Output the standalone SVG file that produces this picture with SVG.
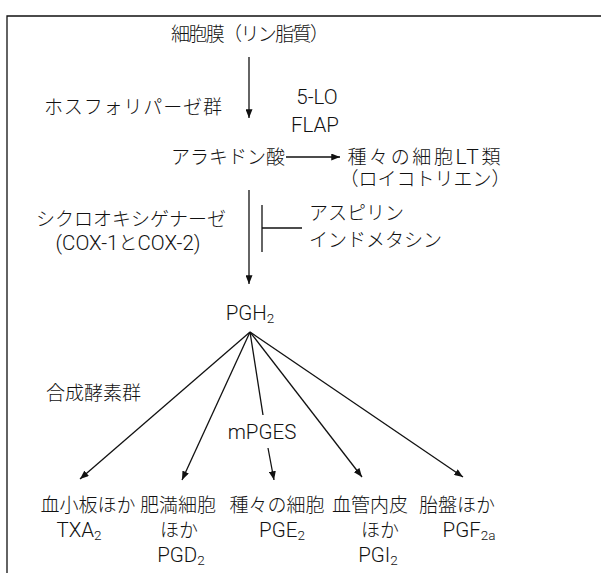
<svg xmlns="http://www.w3.org/2000/svg" width="601" height="573" viewBox="0 0 601 573">
<defs>
<style>
text{font-family:Roboto,"Noto Sans CJK JP",sans-serif;font-size:19px;font-weight:300;fill:#111;dominant-baseline:central}
.m{text-anchor:middle}
.l{font-size:20.5px}
.sub{font-size:13.5px}
.ln{stroke:#111;stroke-width:1.3;fill:none}
</style>
<marker id="ah" viewBox="0 0 10 8" refX="10" refY="4" markerWidth="9" markerHeight="7" markerUnits="userSpaceOnUse" orient="auto">
<path d="M0,0 L10,4 L0,8 Z" fill="#111"/>
</marker>
</defs>
<rect width="601" height="573" fill="#fff"/>
<path class="ln" d="M7,573 V16 H601"/>

<g id="connectors">
<line class="ln" x1="249" y1="57" x2="249" y2="118" marker-end="url(#ah)"/>
<line class="ln" x1="286" y1="157" x2="340" y2="157" marker-end="url(#ah)"/>
<line class="ln" x1="249" y1="190" x2="249" y2="284" marker-end="url(#ah)"/>
<line class="ln" x1="262" y1="205" x2="262" y2="252"/>
<line class="ln" x1="262" y1="228" x2="302" y2="228"/>
<line class="ln" x1="250" y1="332" x2="80" y2="479" marker-end="url(#ah)"/>
<line class="ln" x1="250" y1="332" x2="182" y2="480" marker-end="url(#ah)"/>
<line class="ln" x1="250" y1="332" x2="263" y2="415"/>
<line class="ln" x1="268" y1="448" x2="274" y2="480" marker-end="url(#ah)"/>
<line class="ln" x1="250" y1="332" x2="362" y2="477" marker-end="url(#ah)"/>
<line class="ln" x1="250" y1="332" x2="463" y2="477" marker-end="url(#ah)"/>
</g>

<g id="membrane"><text class="m" x="250" y="34" textLength="158" lengthAdjust="spacing">細胞膜（リン脂質）</text></g>
<g id="phospholipase"><text x="44" y="107" textLength="178" lengthAdjust="spacing">ホスフォリパーゼ群</text></g>
<g id="lo"><text class="m l" x="317" y="97">5-LO</text><text class="m l" x="315" y="125">FLAP</text></g>
<g id="arachidonic"><text class="m" x="228" y="157">アラキドン酸</text></g>
<g id="lt"><text class="m" x="424" y="157" textLength="153" lengthAdjust="spacing">種々の細胞<tspan font-size="21">LT</tspan>類</text><text class="m" x="425" y="179">（ロイコトリエン）</text></g>
<g id="cox"><text class="m" x="131" y="219">シクロオキシゲナーゼ</text><text class="m" x="128" y="243"><tspan font-size="20.5">(COX-1</tspan>と<tspan font-size="20.5">COX-2)</tspan></text></g>
<g id="nsaid"><text x="309" y="213">アスピリン</text><text x="309" y="240">インドメタシン</text></g>
<g id="pgh2"><text class="m l" x="250" y="313">PGH<tspan class="sub" dy="5">2</tspan></text></g>
<g id="synthases"><text x="46" y="393">合成酵素群</text></g>
<g id="mpges"><text class="m l" x="262" y="432">mPGES</text></g>
<g id="txa2"><text class="m" x="88" y="505">血小板ほか</text><text class="m l" x="79" y="530">TXA<tspan class="sub" dy="5">2</tspan></text></g>
<g id="pgd2"><text class="m" x="178" y="505">肥満細胞</text><text class="m" x="179" y="530">ほか</text><text class="m l" x="181" y="555">PGD<tspan class="sub" dy="5">2</tspan></text></g>
<g id="pge2"><text class="m" x="277" y="505">種々の細胞</text><text class="m l" x="282" y="530">PGE<tspan class="sub" dy="5">2</tspan></text></g>
<g id="pgi2"><text class="m" x="370" y="505">血管内皮</text><text class="m" x="380" y="530">ほか</text><text class="m l" x="378" y="555">PGI<tspan class="sub" dy="5">2</tspan></text></g>
<g id="pgf2a"><text class="m" x="457" y="505">胎盤ほか</text><text class="m l" x="469" y="530">PGF<tspan class="sub" dy="5">2a</tspan></text></g>
</svg>
